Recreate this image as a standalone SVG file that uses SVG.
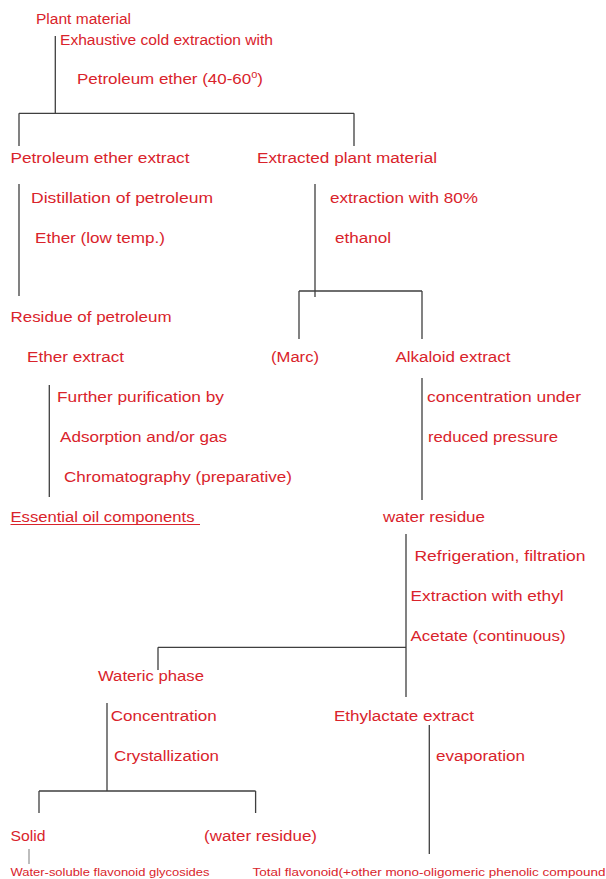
<svg xmlns="http://www.w3.org/2000/svg" width="606" height="879" viewBox="0 0 606 879">
<style>
text{font-family:"Liberation Sans",Arial,sans-serif;font-size:15.3px;fill:#d9232b}
.sm{font-size:11.8px}
.ln{stroke:#3f3f3f;stroke-width:1.3;fill:none}
.lt{stroke:#9a9a9a;stroke-width:1.3;fill:none}
</style>
<rect width="606" height="879" fill="#fff"/>
<g id="connectors">
<path class="ln" d="M55.3 36V113.3M19 113.3H354M19 113.3V146M354 113.3V146"/>
<path class="ln" d="M19 184V296M315 184V297M299 291H422M299 291V339M422 291V339"/>
<path class="ln" d="M49.3 385V497M422 378V500"/>
<path class="ln" d="M406 534V697M158 647.3H406M158 647.3V670"/>
<path class="ln" d="M107 703V791M39 791H255.6M39 791V813M255.6 791V813M429.3 725V854"/>
<path class="lt" d="M29 849V864"/>
</g>
<g id="n-plant"><text x="36" y="24" textLength="95" lengthAdjust="spacingAndGlyphs">Plant material</text></g>
<g id="e-cold"><text x="60" y="45" textLength="213" lengthAdjust="spacingAndGlyphs">Exhaustive cold extraction with</text>
<text x="77" y="84" textLength="186" lengthAdjust="spacingAndGlyphs">Petroleum ether (40-60<tspan dy="-6" font-size="10">o</tspan><tspan dy="6">)</tspan></text></g>
<g id="n-pe-extract"><text x="10.5" y="163" textLength="179" lengthAdjust="spacingAndGlyphs">Petroleum ether extract</text></g>
<g id="n-extracted"><text x="257" y="163" textLength="180" lengthAdjust="spacingAndGlyphs">Extracted plant material</text></g>
<g id="e-distill"><text x="31" y="203" textLength="182" lengthAdjust="spacingAndGlyphs">Distillation of petroleum</text>
<text x="35" y="243" textLength="130" lengthAdjust="spacingAndGlyphs">Ether (low temp.)</text></g>
<g id="e-ethanol"><text x="330" y="203" textLength="148" lengthAdjust="spacingAndGlyphs">extraction with 80%</text>
<text x="335" y="243" textLength="56" lengthAdjust="spacingAndGlyphs">ethanol</text></g>
<g id="n-residue"><text x="10.5" y="322" textLength="161" lengthAdjust="spacingAndGlyphs">Residue of petroleum</text>
<text x="27" y="362" textLength="97" lengthAdjust="spacingAndGlyphs">Ether extract</text></g>
<g id="n-marc"><text x="271" y="362" textLength="48" lengthAdjust="spacingAndGlyphs">(Marc)</text></g>
<g id="n-alkaloid"><text x="395.5" y="362" textLength="115" lengthAdjust="spacingAndGlyphs">Alkaloid extract</text></g>
<g id="e-purif"><text x="57" y="402" textLength="167" lengthAdjust="spacingAndGlyphs">Further purification by</text>
<text x="60" y="442" textLength="167" lengthAdjust="spacingAndGlyphs">Adsorption and/or gas</text>
<text x="64" y="482" textLength="228" lengthAdjust="spacingAndGlyphs">Chromatography (preparative)</text></g>
<g id="e-conc"><text x="427" y="402" textLength="154" lengthAdjust="spacingAndGlyphs">concentration under</text>
<text x="428" y="442" textLength="130" lengthAdjust="spacingAndGlyphs">reduced pressure</text></g>
<g id="n-essential"><text x="10.5" y="522" textLength="184" lengthAdjust="spacingAndGlyphs">Essential oil components</text>
<path d="M10.5 524.5H200" stroke="#d9232b" stroke-width="1.1"/></g>
<g id="n-water-residue"><text x="383" y="522" textLength="102" lengthAdjust="spacingAndGlyphs">water residue</text></g>
<g id="e-refrig"><text x="414.5" y="561" textLength="171" lengthAdjust="spacingAndGlyphs">Refrigeration, filtration</text>
<text x="410.6" y="601" textLength="153" lengthAdjust="spacingAndGlyphs">Extraction with ethyl</text>
<text x="410.6" y="641" textLength="155" lengthAdjust="spacingAndGlyphs">Acetate (continuous)</text></g>
<g id="n-wateric"><text x="98" y="681" textLength="106" lengthAdjust="spacingAndGlyphs">Wateric phase</text></g>
<g id="e-cryst"><text x="110.7" y="721" textLength="106" lengthAdjust="spacingAndGlyphs">Concentration</text>
<text x="114" y="761" textLength="105" lengthAdjust="spacingAndGlyphs">Crystallization</text></g>
<g id="n-ethyl"><text x="334" y="721" textLength="140" lengthAdjust="spacingAndGlyphs">Ethylactate extract</text></g>
<g id="e-evap"><text x="436" y="761" textLength="89" lengthAdjust="spacingAndGlyphs">evaporation</text></g>
<g id="n-solid"><text x="10.5" y="841" textLength="35" lengthAdjust="spacingAndGlyphs">Solid</text></g>
<g id="n-water-residue2"><text x="204" y="841" textLength="113" lengthAdjust="spacingAndGlyphs">(water residue)</text></g>
<g id="n-glycosides"><text class="sm" x="10.5" y="876" textLength="199" lengthAdjust="spacingAndGlyphs">Water-soluble flavonoid glycosides</text></g>
<g id="n-total"><text class="sm" x="252.5" y="876" textLength="353" lengthAdjust="spacingAndGlyphs">Total flavonoid(+other mono-oligomeric phenolic compound</text></g>
</svg>
